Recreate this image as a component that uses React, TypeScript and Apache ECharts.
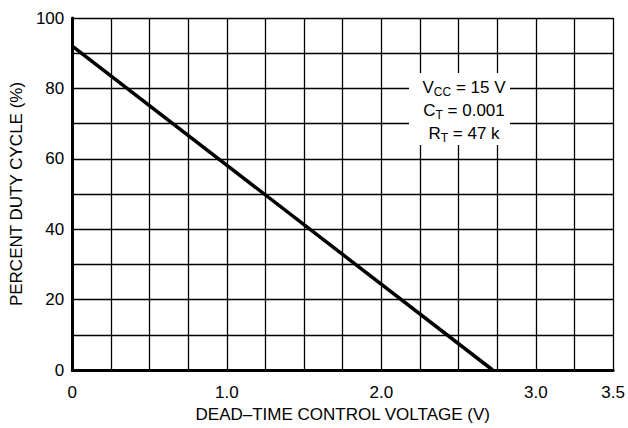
import React, { useEffect, useRef } from "react";
import * as echarts from "echarts";

const xValues = [0, 2.72];
const yValues = [92, 0];
const xLabels: Record<string, string> = { "0": "0", "1": "1.0", "2": "2.0", "3": "3.0", "3.5": "3.5" };
const yLabels = [0, 20, 40, 60, 80, 100];
const xTitle = "DEAD–TIME CONTROL VOLTAGE (V)";
const yTitle = "PERCENT DUTY CYCLE (%)";

const FONT = "'Liberation Sans Narrow', 'Liberation Sans', Arial, sans-serif";

export default function App() {
  const ref = useRef<HTMLDivElement>(null);
  useEffect(() => {
    const chart = echarts.init(ref.current!, null, { renderer: "svg" });
    chart.setOption({
      animation: false,
      backgroundColor: "#fff",
      textStyle: { fontFamily: FONT },
      grid: { left: 71, right: 14, top: 18, bottom: 58, containLabel: false },
      xAxis: {
        type: "value",
        min: 0,
        max: 3.5,
        interval: 0.25,
        name: xTitle,
        nameLocation: "middle",
        nameGap: 34,
        nameTextStyle: { color: "#000", fontSize: 17, fontFamily: FONT },
        axisLine: { show: true, onZero: false, lineStyle: { color: "#000", width: 3 } },
        axisTick: { show: false },
        axisLabel: {
          color: "#000",
          fontSize: 17,
          fontFamily: FONT,
          margin: 14,
          formatter: (v: number) => xLabels[String(v)] ?? "",
        },
        splitLine: { show: true, lineStyle: { color: "#000", width: 1.3 } },
      },
      yAxis: {
        type: "value",
        min: 0,
        max: 100,
        interval: 10,
        name: yTitle,
        nameLocation: "middle",
        nameGap: 46,
        nameTextStyle: { color: "#000", fontSize: 17, fontFamily: FONT },
        axisLine: { show: true, onZero: false, lineStyle: { color: "#000", width: 3 } },
        axisTick: { show: false },
        axisLabel: {
          color: "#000",
          fontSize: 17,
          fontFamily: FONT,
          margin: 8,
          formatter: (v: number) => (yLabels.includes(v) ? String(v) : ""),
        },
        splitLine: { show: true, lineStyle: { color: "#000", width: 1.3 } },
      },
      series: [
        {
          type: "line",
          data: xValues.map((x, i) => [x, yValues[i]]),
          symbol: "none",
          lineStyle: { color: "#000", width: 3.5 },
          z: 5,
        },
      ],
      graphic: [
        {
          type: "rect",
          shape: { x: 409, y: 73, width: 101, height: 72 },
          style: { fill: "#fff" },
          z: 10,
        },
        {
          type: "text",
          x: 464,
          y: 76,
          z: 11,
          style: {
            text: "{m|V}{s|CC}{m| = 15 V}\n{m|C}{s|T}{m| = 0.001}\n{m|R}{s|T}{m| = 47 k}",
            align: "center",
            verticalAlign: "top",
            lineHeight: 23,
            rich: {
              m: { fontSize: 17, fontFamily: FONT, fill: "#000", lineHeight: 23 },
              s: { fontSize: 12, fontFamily: FONT, fill: "#000", lineHeight: 23, padding: [8, 0, 0, 0] },
            },
          },
        },
      ],
    });
    return () => chart.dispose();
  }, []);
  return (
    <div
      ref={ref}
      style={{ position: "absolute", left: 0, top: 0, width: 628, height: 428 }}
    />
  );
}
